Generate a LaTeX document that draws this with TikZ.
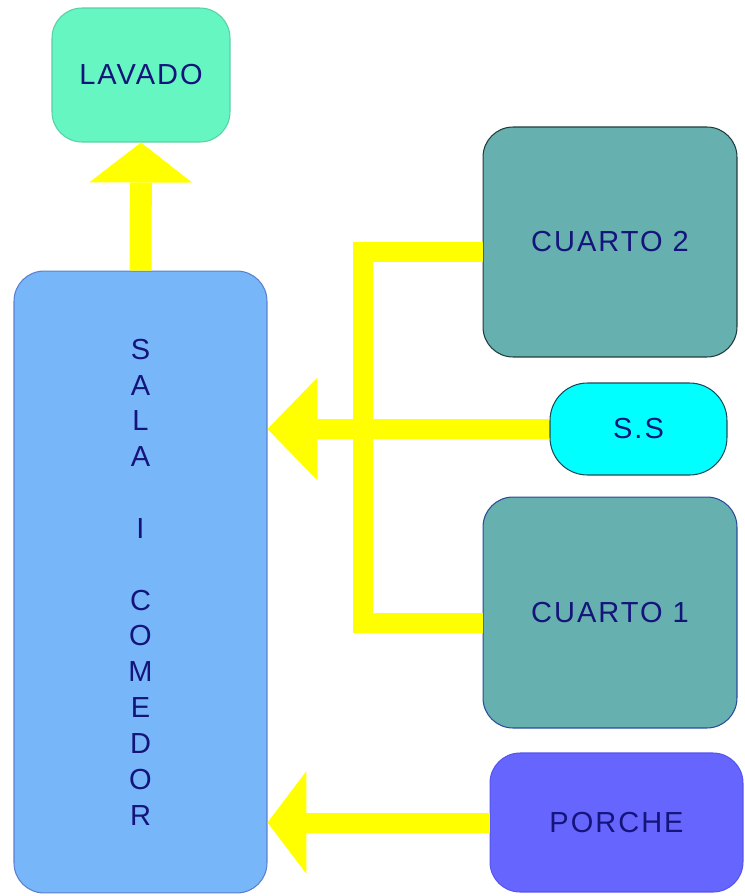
\documentclass[tikz,border=0pt]{standalone}
\usepackage{fontspec}
\setmainfont{Liberation Sans}[LetterSpace=7]
\usepackage{xcolor}
\usetikzlibrary{arrows.meta}
\definecolor{rotulo}{HTML}{14147A}
\definecolor{amarillo}{HTML}{FFFF00}
\definecolor{verdeagua}{HTML}{66F6C2}
\definecolor{azulsala}{HTML}{77B6F9}
\definecolor{bordesala}{HTML}{5A7FD0}
\definecolor{verdecuarto}{HTML}{66B0B0}
\definecolor{bordecuarto}{HTML}{1E3C3C}
\definecolor{bordecuartob}{HTML}{2A4A9A}
\definecolor{cian}{HTML}{00FFFF}
\definecolor{bordecian}{HTML}{1A4A5A}
\definecolor{lila}{HTML}{6666FF}
\definecolor{bordelila}{HTML}{5555EE}

\begin{document}
\begin{tikzpicture}[x=0.02cm, y=-0.02cm,
    cuarto/.style={rectangle, rounded corners=0.6cm, line width=0.6pt, text=rotulo,
      font=\fontsize{16.5}{20.4}\selectfont, align=center, inner sep=0pt},
    yline/.style={draw=amarillo, line width=0.4cm, line join=miter},
    yarrow/.style={yline, -{Triangle[width=2.06cm, length=#1, line width=0pt]}},
    yarrow/.default=0.8cm]
    \useasboundingbox (0, 0) rectangle (744, 896);
    \node[cuarto, fill=verdeagua, draw=verdeagua!85!black,
      minimum width=3.56cm, minimum height=2.68cm] (lavado) at (141, 75) {LAVADO};
    \node[cuarto, fill=azulsala, draw=bordesala,
      minimum width=5.06cm, minimum height=12.44cm] (sala) at (140.5, 582)
      {S\\A\\L\\A\\ \\I\\ \\C\\O\\M\\E\\D\\O\\R};
    \node[cuarto, fill=verdecuarto, draw=bordecuarto,
      minimum width=5.08cm, minimum height=4.6cm] (cuarto2) at (610, 242) {CUARTO 2};
    \node[cuarto, fill=cian, draw=bordecian, rounded corners=0.75cm,
      minimum width=3.54cm, minimum height=1.84cm] (ss) at (638.5, 429) {S.S};
    \node[cuarto, fill=verdecuarto, draw=bordecuartob,
      minimum width=5.08cm, minimum height=4.62cm] (cuarto1) at (610, 612.5) {CUARTO 1};
    \node[cuarto, fill=lila, draw=bordelila,
      minimum width=5.06cm, minimum height=2.78cm] (porche) at (616.5, 822.5) {PORCHE};
    \coordinate (bus) at (363, 428);
    \draw[yarrow, line width=0.44cm] (sala.north) -- (lavado.south);
    \draw[yline] ([yshift=-0.2cm]cuarto2.west) -| (bus) |- ([yshift=-0.2cm]cuarto1.west);
    \draw[yarrow=1cm] (ss.west) -- (sala.east |- ss.west);
    \draw[yarrow=0.78cm] (porche.west) -- (sala.east |- porche.west);
  \end{tikzpicture}
\end{document}
